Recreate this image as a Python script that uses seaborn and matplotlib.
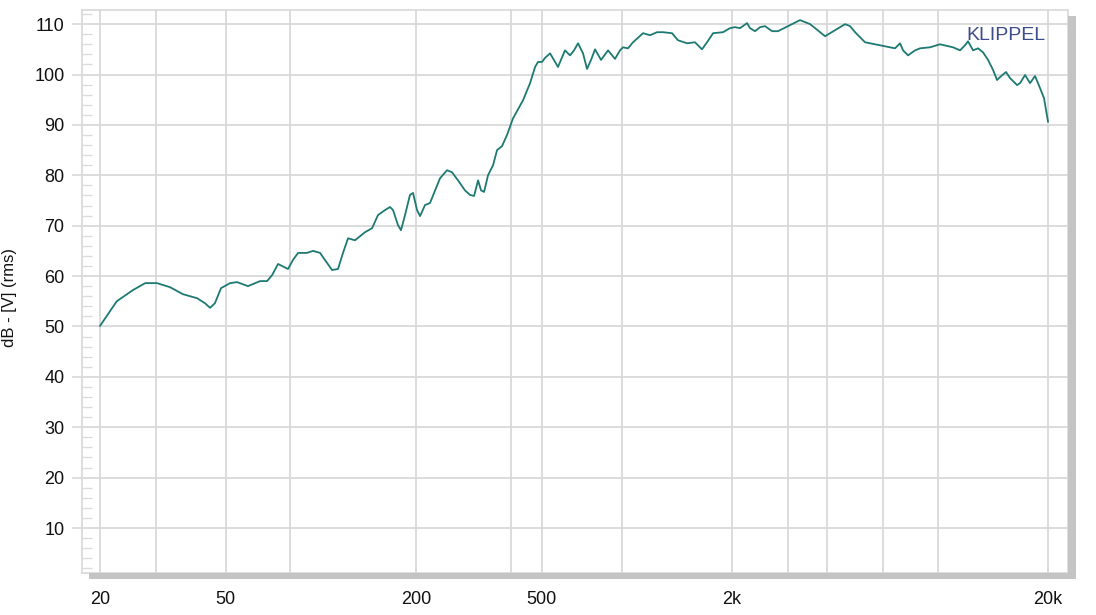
import matplotlib
matplotlib.use("Agg")
import matplotlib.pyplot as plt
import matplotlib.ticker as mticker
from matplotlib.patches import Rectangle
import pandas as pd
import seaborn as sns

# Frequency response (Hz, dB)
freq_hz = [
    20, 22.6, 25.4, 27.8, 30.3, 33.3, 36.6, 40.6, 43.0, 44.6, 46.2, 48.3,
    51.6, 54.3, 58.8, 64.2, 67.6, 70.1, 73.2, 78.7, 81.6, 84.7, 90.4, 94.4,
    99.4, 103, 108.5, 113.3, 117.5, 121.9, 128.2, 137.9, 145.2, 151.6, 159.6,
    165.5, 169.2, 175.4, 179.3, 184.6, 191.4, 195.7, 201.5, 206, 213.6, 221.5,
    229.8, 238.2, 250.7, 260, 271.6, 285.8, 296.5, 305.3, 314.4, 321.3, 328.4,
    338, 350.6, 361, 374.4, 388.2, 405.5, 436.3, 459.2, 476.2, 486.6, 501,
    512, 531.2, 562.8, 592.2, 614.2, 632.5, 651.2, 675.4, 695.4, 716, 737.2,
    770, 810.4, 852.6, 884.2, 903.8, 937.4, 972, 1046, 1100.6, 1158, 1210,
    1292, 1349, 1441, 1527, 1607, 1667, 1742, 1873, 1971, 2044, 2120, 2232,
    2280, 2365, 2454, 2544, 2678, 2796, 3052, 3282, 3532, 3798, 3940, 4236,
    4558, 4726, 4902, 5272, 5670, 6100, 6560, 6804, 6954, 7212, 7590, 7872,
    8464, 9102, 10010, 10532, 10922, 11164, 11580, 12010, 12456, 12918, 13398,
    13794, 14100, 14724, 15160, 15958, 16312, 16916, 17540, 18194, 18868,
    19424, 19710, 20000,
]
level_db = [
    50.1, 55.0, 57.2, 58.6, 58.6, 57.8, 56.4, 55.6, 54.6, 53.7, 54.6, 57.6,
    58.6, 58.8, 58.0, 59.0, 59.0, 60.2, 62.4, 61.4, 63.2, 64.6, 64.6, 65.0,
    64.6, 63.2, 61.2, 61.4, 64.6, 67.5, 67.1, 68.7, 69.5, 72.1, 73.1,
    73.7, 73.1, 70.1, 69.1, 72.1, 76.1, 76.5, 73.1, 71.9, 74.1, 74.5,
    77.0, 79.4, 81.0, 80.6, 79.0, 77.0, 76.1, 75.9, 79.0, 77.0, 76.7,
    80.0, 82.0, 85.0, 85.8, 88.0, 91.3, 94.9, 98.3, 101.5, 102.5, 102.5,
    103.3, 104.2, 101.5, 104.8, 103.8, 104.8, 106.2, 104.2, 101.1, 102.9, 105.0,
    102.9, 104.8, 103.1, 104.8, 105.4, 105.2, 106.4, 108.2, 107.8, 108.4, 108.4,
    108.2, 106.8, 106.2, 106.4, 105.0, 106.4, 108.2, 108.4, 109.2, 109.4, 109.2, 110.2,
    109.2, 108.6, 109.4, 109.6, 108.6, 108.6, 109.8, 110.8, 110.0, 108.4, 107.6, 108.8,
    110.0, 109.6, 108.4, 106.4, 106.0, 105.6, 105.2, 106.2, 104.8, 103.8, 104.8, 105.2,
    105.4, 106.0, 105.4, 104.8, 105.8, 106.6, 104.8, 105.2, 104.4, 102.9, 100.9,
    98.9, 99.5, 100.5, 99.3, 97.9, 98.3, 99.9, 98.3, 99.7, 97.3,
    95.3, 92.9, 90.6,
]

grid_freqs = [20, 30, 50, 80, 200, 400, 500, 900, 2000, 3000, 4000, 6000, 9000, 20000]
label_freqs = [20, 50, 200, 500, 2000, 20000]
label_text = ["20", "50", "200", "500", "2k", "20k"]
y_ticks = [10, 20, 30, 40, 50, 60, 70, 80, 90, 100, 110]

df = pd.DataFrame({"freq": freq_hz, "db": level_db})

sns.set_theme(style="white")
plt.rcParams["font.family"] = ["Liberation Sans", "DejaVu Sans"]

fig = plt.figure(figsize=(10.96, 6.15), dpi=100)
ax = fig.add_axes([0.0748, 0.0683, 0.8997, 0.9154])

grid_col = "#d6d6d6"

sns.lineplot(data=df, x="freq", y="db", ax=ax, color="#1d7a72",
             linewidth=1.3, sort=False, estimator=None, zorder=3)

ax.set_xscale("log")
ax.set_xlim(17.54, 23140)
ax.set_ylim(1.07, 112.8)

# vertical grid (Klippel style, irregular positions)
ax.xaxis.set_major_locator(mticker.FixedLocator(label_freqs))
ax.xaxis.set_major_formatter(mticker.FixedFormatter(label_text))
ax.xaxis.set_minor_locator(mticker.NullLocator())
for f in grid_freqs:
    ax.axvline(f, color=grid_col, linewidth=1.2, zorder=1)

ax.set_yticks(y_ticks)
ax.yaxis.set_minor_locator(mticker.MultipleLocator(2))
for v in y_ticks:
    ax.axhline(v, color=grid_col, linewidth=1.2, zorder=1)

ax.tick_params(axis="x", length=0, pad=13, labelsize=13, labelcolor="#111111")
ax.tick_params(axis="y", which="major", direction="out", length=7.5, width=1.1,
               color=grid_col, pad=5, labelsize=13, labelcolor="#111111", left=True)
ax.tick_params(axis="y", which="minor", direction="in", length=7.5, width=1.0,
               color="#dcdcdc", left=True)

for s in ax.spines.values():
    s.set_color("#d8d8d8")
    s.set_linewidth(1.2)

ax.set_xlabel("")
ax.set_ylabel("dB - [V] (rms)", fontsize=12, color="#111111")
ax.yaxis.set_label_coords(-0.066, 0.49)

# drop shadow along right and bottom edges
shadow = "#c4c4c4"
fig.patches.append(Rectangle((1068, 615 - 579), 8, 563, transform=None,
                             facecolor=shadow, edgecolor="none", zorder=0))
fig.patches.append(Rectangle((89, 615 - 579), 987, 6, transform=None,
                             facecolor=shadow, edgecolor="none", zorder=0))

fig.text(1046 / 1096, 1 - 35 / 615, "KLIPPEL", ha="right", va="center",
         fontsize=14, color="#3d4c8c")

fig.savefig("out.png", dpi=100)
